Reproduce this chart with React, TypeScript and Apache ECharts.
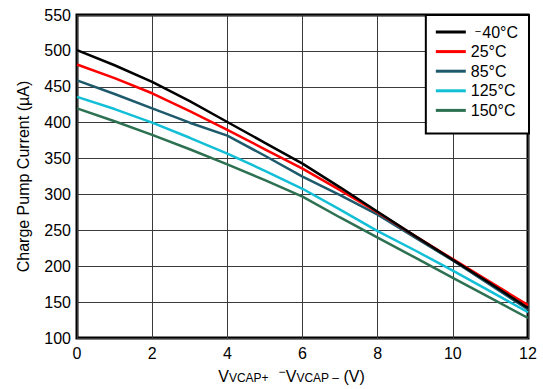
import React, { useEffect, useRef } from "react";
import * as echarts from "echarts";

const xValues = [0, 1, 2, 3, 4, 5, 6, 7, 8, 9, 10, 11, 12];
const seriesNames = ["-40°C", "25°C", "85°C", "125°C", "150°C"];
const tMinus40 = [501, 480, 457, 430, 401, 372, 343, 310, 276, 242, 209, 176, 142];
const t25 = [481, 462, 441, 416, 390, 363, 336, 306, 275, 242, 210, 178, 146];
const t85 = [459, 440, 420, 400, 382, 354, 325, 299, 272, 240, 208, 174, 140];
const t125 = [436, 419, 400, 379, 357, 333, 308, 279, 249, 222, 194, 165, 136];
const t150 = [420, 402, 383, 363, 342, 320, 297, 268, 240, 212, 184, 156, 128];
const colors = ["#000000", "#ff0000", "#1e5a6c", "#12bfd6", "#2d7152"];

export default function App() {
  const ref = useRef<HTMLDivElement>(null);
  useEffect(() => {
    if (!ref.current) return;
    const chart = echarts.init(ref.current, null, { renderer: "svg" });
    const all = [tMinus40, t25, t85, t125, t150];
    const font = "Arial, 'Liberation Sans', sans-serif";
    chart.setOption({
      animation: false,
      backgroundColor: "#ffffff",
      grid: {
        left: 77,
        right: 15,
        top: 15,
        bottom: 48,
        show: true,
        borderColor: "#000",
        borderWidth: 3,
        backgroundColor: "transparent",
      },
      legend: {
        orient: "vertical",
        right: 14,
        top: 15,
        icon: "rect",
        itemWidth: 30,
        itemHeight: 3,
        itemGap: 3.6,
        padding: [9, 11, 15, 10],
        backgroundColor: "#fff",
        borderColor: "#000",
        borderWidth: 2,
        formatter: (name: string) =>
          name.startsWith("-") ? "{m|−}{t|" + name.slice(1) + "}" : "{t|" + name + "}",
        textStyle: {
          fontSize: 16,
          color: "#000",
          fontFamily: font,
          lineHeight: 14,
          rich: {
            t: { fontSize: 16, fontFamily: font, color: "#000", lineHeight: 14, verticalAlign: "middle" },
            m: { fontSize: 11, fontFamily: font, color: "#000", lineHeight: 14, verticalAlign: "top", padding: [0, 1, 0, 4] },
          },
        },
        data: seriesNames,
      },
      xAxis: {
        type: "value",
        min: 0,
        max: 12,
        interval: 2,
        axisLine: { show: false },
        axisTick: { show: false },
        axisLabel: { fontSize: 16, color: "#000", fontFamily: font, margin: 7 },
        splitLine: { show: true, lineStyle: { color: "#3a3a3a", width: 1 } },
        nameLocation: "middle",
        nameGap: 25,
        name: "{v|V}{s|VCAP+}   {m|−}{v|V}{s|VCAP –}{v| (V)}",
        nameTextStyle: {
          fontFamily: font,
          color: "#000",
          padding: [0, 22, 0, 0],
          rich: {
            v: { fontSize: 16, lineHeight: 18, fontFamily: font, color: "#000", verticalAlign: "bottom" },
            s: { fontSize: 12, lineHeight: 12, fontFamily: font, color: "#000", verticalAlign: "bottom" },
            m: { fontSize: 12, lineHeight: 12, fontFamily: font, color: "#000", verticalAlign: "top" },
          },
        },
      },
      yAxis: {
        type: "value",
        min: 100,
        max: 550,
        interval: 50,
        axisLine: { show: false },
        axisTick: { show: false },
        axisLabel: { fontSize: 16, color: "#000", fontFamily: font, margin: 6 },
        splitLine: { show: true, lineStyle: { color: "#3a3a3a", width: 1 } },
        name: "Charge Pump Current (µA)",
        nameLocation: "middle",
        nameGap: 46,
        nameTextStyle: { fontSize: 16, color: "#000", fontFamily: font },
      },
      series: seriesNames.map((n, i) => ({
        name: n,
        type: "line",
        showSymbol: false,
        symbol: "none",
        color: colors[i],
        lineStyle: { width: 2.5, color: colors[i] },
        data: xValues.map((x, j) => [x, all[i][j]]),
        z: 10 - i,
      })),
    });
    return () => chart.dispose();
  }, []);
  return <div ref={ref} style={{ position: "fixed", left: 0, top: 0, width: 543, height: 389 }} />;
}
